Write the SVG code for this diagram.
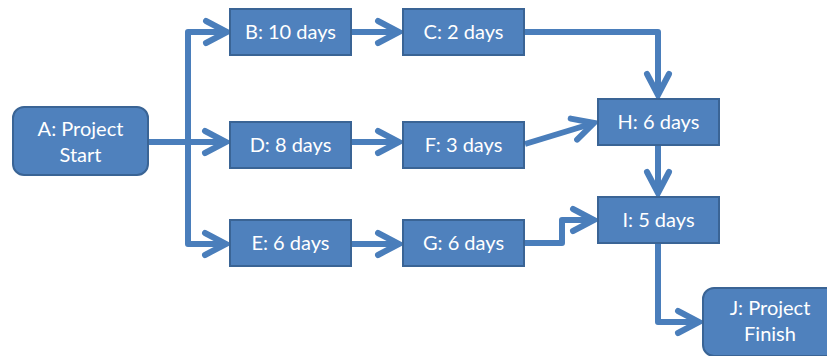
<svg xmlns="http://www.w3.org/2000/svg" width="827" height="356" viewBox="0 0 827 356">
<style>
.box{fill:#4f81bd;stroke:#3a6495;stroke-width:2}
.t{font-family:Lato,"Open Sans","Liberation Sans",sans-serif;font-size:20px;fill:#ffffff;text-anchor:middle}
.c{fill:none;stroke:#4a7ebb;stroke-width:6;stroke-linejoin:round;marker-end:url(#ah)}
.cn{fill:none;stroke:#4a7ebb;stroke-width:6;stroke-linejoin:round}
</style>
<defs>
<marker id="ah" markerUnits="userSpaceOnUse" viewBox="0 0 28 28" markerWidth="28" markerHeight="28" refX="24" refY="14" orient="auto" overflow="visible">
<path d="M3,3 L24,14 L3,25" fill="none" stroke="#4a7ebb" stroke-width="6" stroke-linecap="round" stroke-linejoin="miter"/>
</marker>
</defs>
<rect width="827" height="356" fill="#ffffff"/>
<g id="connectors">
<path class="cn" d="M148,142 L188,142"/>
<path class="c" d="M188,142 L188,32 L227,32"/>
<path class="c" d="M188,142 L226,142"/>
<path class="c" d="M188,142 L188,244 L226,244"/>
<path class="c" d="M351,32 L399,32"/>
<path class="c" d="M351,142 L399,142"/>
<path class="c" d="M351,244 L399,244"/>
<path class="c" d="M524,32 L658,32 L658,95"/>
<path class="c" d="M525,144 L594,123"/>
<path class="c" d="M658,146 L658,193"/>
<path class="c" d="M524,243 L562,243 L562,220 L594,220"/>
<path class="c" d="M658,243 L658,322 L699,322"/>
</g>
<g id="A"><rect class="box" x="13" y="107" width="135" height="68" rx="11"/><text class="t" x="80.5" y="136">A: Project</text><text class="t" x="80.5" y="162">Start</text></g>
<g id="B"><rect class="box" x="230" y="9" width="121" height="46"/><text class="t" x="290.5" y="39">B: 10 days</text></g>
<g id="C"><rect class="box" x="403" y="9" width="121" height="46"/><text class="t" x="463.5" y="39">C: 2 days</text></g>
<g id="D"><rect class="box" x="230" y="122" width="121" height="46"/><text class="t" x="290.5" y="152">D: 8 days</text></g>
<g id="F"><rect class="box" x="403" y="122" width="121" height="46"/><text class="t" x="463.5" y="152">F: 3 days</text></g>
<g id="E"><rect class="box" x="230" y="220" width="121" height="46"/><text class="t" x="290.5" y="250">E: 6 days</text></g>
<g id="G"><rect class="box" x="403" y="220" width="121" height="46"/><text class="t" x="463.5" y="250">G: 6 days</text></g>
<g id="H"><rect class="box" x="598" y="99" width="121" height="46"/><text class="t" x="658.5" y="129">H: 6 days</text></g>
<g id="I"><rect class="box" x="598" y="197" width="121" height="46"/><text class="t" x="658.5" y="227">I: 5 days</text></g>
<g id="J"><rect class="box" x="703" y="288" width="135" height="68" rx="11"/><text class="t" x="770" y="315">J: Project</text><text class="t" x="770" y="341">Finish</text></g>
</svg>
